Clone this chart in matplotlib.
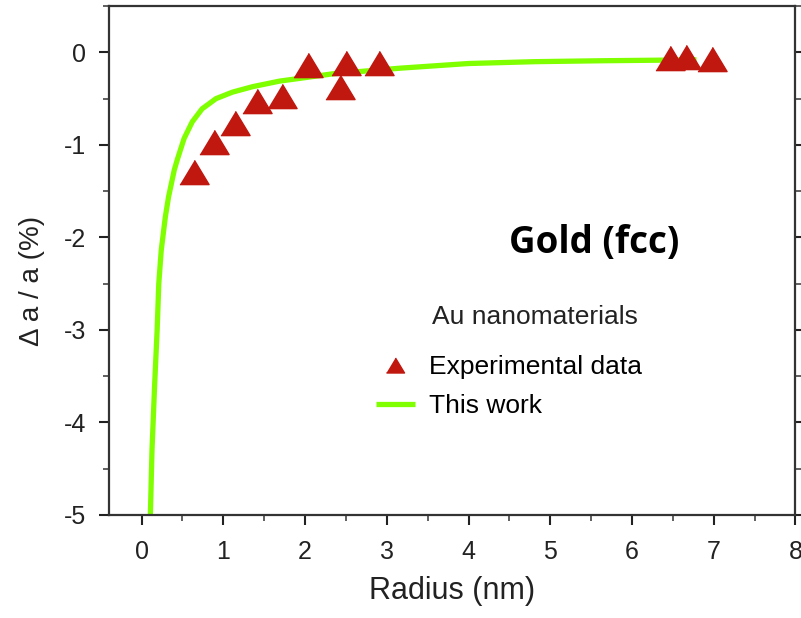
import matplotlib.pyplot as plt
from matplotlib.ticker import MultipleLocator

plt.rcParams['font.family'] = ['Liberation Sans', 'DejaVu Sans']
plt.rcParams['axes.unicode_minus'] = False

# experimental points (radius nm, delta a / a %)
exp_r = [0.64, 0.88, 1.14, 1.41, 1.72, 2.03, 2.43, 2.50, 2.90, 6.47, 6.66, 6.98]
exp_d = [-1.29, -0.97, -0.76, -0.52, -0.47, -0.14, -0.37, -0.11, -0.11, -0.06, -0.05, -0.07]

# model curve
fit_r = [0.107, 0.127, 0.16, 0.19, 0.21, 0.24, 0.29, 0.33, 0.40, 0.44, 0.52, 0.62, 0.74,
         0.91, 1.11, 1.36, 1.69, 1.94, 2.35, 3.17, 4.0, 4.81, 5.64, 6.79]
fit_d = [-5.0, -4.30, -3.58, -3.0, -2.5, -2.14, -1.78, -1.56, -1.27, -1.15, -0.93, -0.75, -0.61,
         -0.50, -0.43, -0.37, -0.31, -0.28, -0.23, -0.17, -0.12, -0.10, -0.09, -0.08]

red = '#c0170f'
green = '#80ff00'
tri = [(-1, -0.83), (1, -0.83), (0, 0.83)]

fig = plt.figure(figsize=(8.01, 6.18), dpi=100)
ax = fig.add_axes([0.136, 0.167, 0.857, 0.823])

line, = ax.plot(fit_r, fit_d, color=green, lw=3.8, solid_capstyle='butt',
                solid_joinstyle='round', zorder=2)
pts, = ax.plot(exp_r, exp_d, ls='none', marker=tri, ms=21, color=red, mec=red, zorder=3)

ax.set_xlim(-0.4, 8)
ax.set_ylim(-5, 0.5)
ax.xaxis.set_major_locator(MultipleLocator(1))
ax.xaxis.set_minor_locator(MultipleLocator(0.5))
ax.yaxis.set_major_locator(MultipleLocator(1))
ax.yaxis.set_minor_locator(MultipleLocator(0.5))
ax.tick_params(which='major', direction='out', length=7.5, width=1.5, labelsize=18,
               colors='#222222')
ax.tick_params(which='minor', direction='out', length=4, width=1.2, colors='#444444')
ax.tick_params(axis='x', which='major', pad=11)
ax.tick_params(axis='y', which='major', pad=9)
ax.tick_params(axis='y', which='both', right=True)
for s in ax.spines.values():
    s.set_linewidth(1.6)
    s.set_color('#333333')

ax.set_xlabel('Radius (nm)', fontsize=22, labelpad=8, color='#222222')
ax.set_ylabel('Δ a / a (%)', fontsize=20, color='#222222')
ax.yaxis.set_label_coords(-0.093, 0.46)

ax.text(0.707, 0.535, 'Gold (fcc)', transform=ax.transAxes, fontsize=26.5,
        fontweight='bold', family=['Open Sans', 'DejaVu Sans'], ha='center', va='center')
ax.text(0.47, 0.389, 'Au nanomaterials', transform=ax.transAxes, fontsize=19,
        ha='left', va='center', color='#222222')
ax.legend([pts, line], ['Experimental data', 'This work'], frameon=False,
          loc='upper left', bbox_to_anchor=(0.354, 0.36), fontsize=19,
          handlelength=1.5, handletextpad=0.53, labelspacing=0.57, markerscale=0.62)

fig.savefig('out.png', dpi=100)
